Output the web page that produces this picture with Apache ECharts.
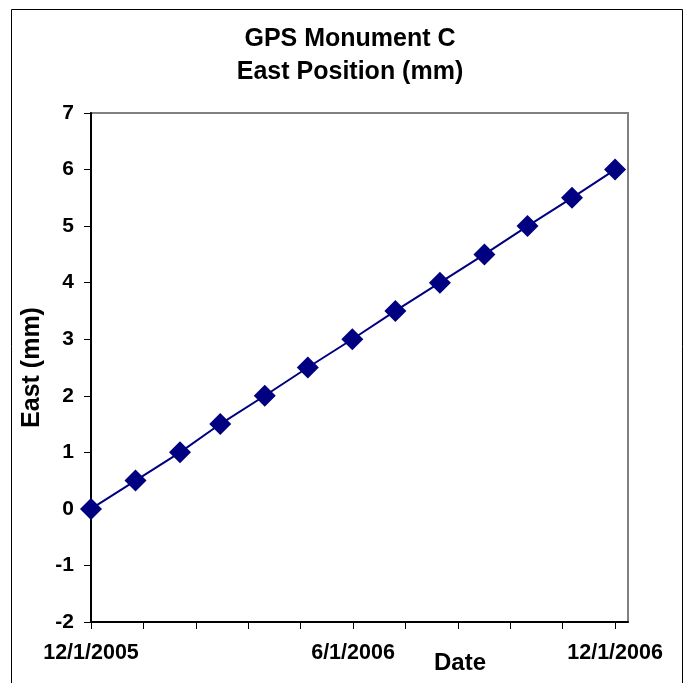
<!DOCTYPE html>
<html>
<head>
<meta charset="utf-8">
<script src="https://cdn.jsdelivr.net/npm/echarts@6/dist/echarts.min.js"></script>
<style>
html,body{margin:0;padding:0;background:#fff;}
#chart{width:686px;height:683px;}
</style>
</head>
<body>
<div id="chart"></div>
<script>
// ---- data ----
var titleLines = ['GPS Monument C', 'East Position (mm)'];
var dates = ['2005-12-01','2006-01-01','2006-02-01','2006-03-01','2006-04-01','2006-05-01','2006-06-01',
             '2006-07-01','2006-08-01','2006-09-01','2006-10-01','2006-11-01','2006-12-01'];
var eastValues = [0, 0.5, 1.0, 1.5, 2.0, 2.5, 3.0, 3.5, 4.0, 4.5, 5.0, 5.5, 6.0];
var xTickLabels = ['12/1/2005', '6/1/2006', '12/1/2006'];
var xLabelDays = [0, 182.5, 365];
var xTickDays = [0, 36.5, 73, 109.5, 146, 182.5, 219, 255.5, 292, 328.5, 365];
var yAxisName = 'East (mm)';
var xAxisName = 'Date';

// ---- build ----
var originDate = Date.UTC(2005, 11, 1);
function dayOffset(s) {
  var p = s.split('-');
  return (Date.UTC(+p[0], +p[1] - 1, +p[2]) - originDate) / 86400000;
}
var seriesData = dates.map(function (d, i) { return [dayOffset(d), eastValues[i]]; });

var FONT = 'Liberation Sans, Arial, sans-serif';
var chart = echarts.init(document.getElementById('chart'), null, {renderer: 'canvas'});
chart.setOption({
  backgroundColor: '#ffffff',
  animation: false,
  title: {
    text: titleLines.join('\n'),
    left: 350,
    top: 23,
    padding: 0,
    textAlign: 'center',
    textStyle: {fontFamily: FONT, fontWeight: 'bold', fontSize: 25, lineHeight: 33, color: '#000'}
  },
  graphic: [
    {type: 'rect', shape: {x: 11.5, y: 9.5, width: 671, height: 690}, style: {fill: 'none', stroke: '#000', lineWidth: 1}, silent: true, z: -1},
    {type: 'text', left: 434, top: 651, style: {text: xAxisName, fontFamily: FONT, fontWeight: 'bold', fontSize: 24, fill: '#000'}}
  ],
  grid: {
    left: 91, top: 113, width: 537, height: 509,
    show: true, borderColor: '#808080', borderWidth: 2, backgroundColor: 'transparent'
  },
  xAxis: {
    type: 'value',
    min: 0,
    max: 374,
    splitLine: {show: false},
    axisLine: {show: true, onZero: false, lineStyle: {color: '#000', width: 2}},
    axisTick: {show: true, inside: false, length: 7, lineStyle: {color: '#000', width: 1}, customValues: xTickDays},
    axisLabel: {
      customValues: xLabelDays,
      margin: 20,
      fontFamily: FONT, fontWeight: 'bold', fontSize: 21.5, color: '#000',
      formatter: function (v) {
        var i = xLabelDays.indexOf(v);
        return i >= 0 ? xTickLabels[i] : '';
      }
    }
  },
  yAxis: {
    type: 'value',
    min: -2,
    max: 7,
    interval: 1,
    name: yAxisName,
    nameLocation: 'middle',
    nameRotate: 90,
    nameGap: 41,
    nameTextStyle: {fontFamily: FONT, fontWeight: 'bold', fontSize: 25, color: '#000'},
    splitLine: {show: false},
    axisLine: {show: true, onZero: false, lineStyle: {color: '#000', width: 2}},
    axisTick: {show: true, inside: false, length: 7, lineStyle: {color: '#000', width: 1}},
    axisLabel: {margin: 17, fontFamily: FONT, fontWeight: 'bold', fontSize: 21, color: '#000'}
  },
  series: [{
    type: 'line',
    data: seriesData,
    symbol: 'diamond',
    symbolSize: 22,
    showAllSymbol: true,
    clip: false,
    lineStyle: {color: '#000080', width: 2},
    itemStyle: {color: '#000080', borderWidth: 0}
  }]
});
</script>
</body>
</html>
